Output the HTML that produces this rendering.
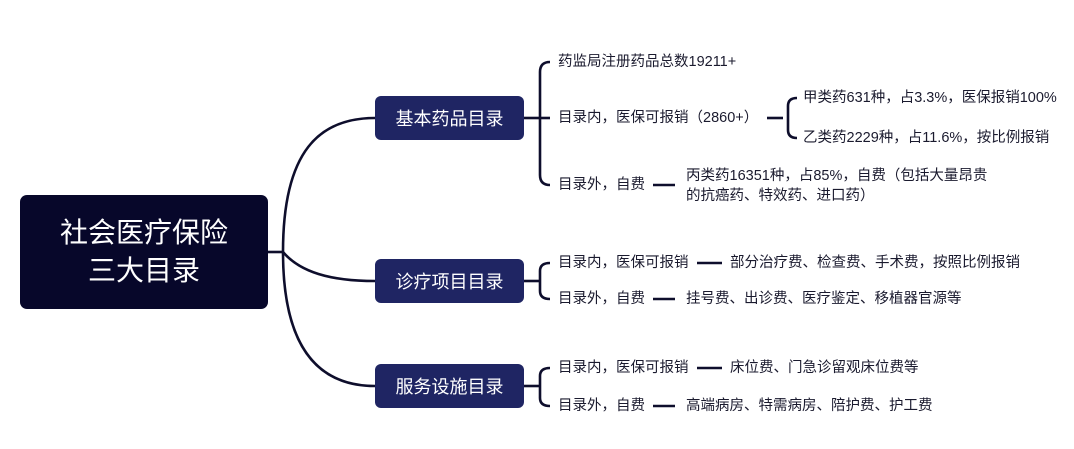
<!DOCTYPE html>
<html><head><meta charset="utf-8"><style>
body{margin:0;width:1074px;height:449px;background:#fff;position:relative;overflow:hidden;font-family:"Liberation Sans","Noto Sans CJK SC",sans-serif;}
.t{position:absolute;font-size:14.5px;color:#1a1a2e;white-space:nowrap;line-height:18px;}
.b{position:absolute;background:#1f2563;color:#fff;border-radius:6px;font-size:18px;display:flex;align-items:center;justify-content:center;}
</style></head><body>
<svg width="1074" height="449" style="position:absolute;left:0;top:0" fill="none" stroke="#0e0e2c" stroke-width="2.6">
<path d="M268 252 H283"/>
<path d="M283 252 C283 150 320 118 375 118"/>
<path d="M283 252 C300 272 330 281 375 281"/>
<path d="M283 252 C283 350 320 386 375 386"/>
<path d="M524 118 H540"/>
<path d="M550 62 Q540 62 540 72 V175 Q540 185 550 185"/>
<path d="M540 118 H550"/>
<path d="M767 118 H783"/>
<path d="M797 98 Q788 98 788 106 V130 Q788 138 797 138"/>
<path d="M653 185 H675"/>
<path d="M524 281 H540"/>
<path d="M550 263 Q540 263 540 271 V291 Q540 299 550 299"/>
<path d="M697 263 H722"/><path d="M653 299 H675"/>
<path d="M524 386 H540"/>
<path d="M550 368 Q540 368 540 376 V398 Q540 406 550 406"/>
<path d="M697 368 H722"/><path d="M653 406 H675"/>
</svg>
<div class="b" style="left:20px;top:195px;width:248px;height:114px;background:#07072a;font-size:28px;line-height:38px;text-align:center;border-radius:7px">社会医疗保险<br>三大目录</div>
<div class="b" style="left:375px;top:96px;width:149px;height:44px">基本药品目录</div>
<div class="b" style="left:375px;top:259px;width:149px;height:44px">诊疗项目目录</div>
<div class="b" style="left:375px;top:364px;width:149px;height:44px">服务设施目录</div>
<div class="t" style="left:558px;top:53px">药监局注册药品总数19211+</div>
<div class="t" style="left:558px;top:109px">目录内，医保可报销（2860+）</div>
<div class="t" style="left:803px;top:89px">甲类药631种，占3.3%，医保报销100%</div>
<div class="t" style="left:803px;top:129px">乙类药2229种，占11.6%，按比例报销</div>
<div class="t" style="left:558px;top:176px">目录外，自费</div>
<div class="t" style="left:686px;top:166px;line-height:20px">丙类药16351种，占85%，自费（包括大量昂贵<br>的抗癌药、特效药、进口药）</div>
<div class="t" style="left:558px;top:254px">目录内，医保可报销</div>
<div class="t" style="left:730px;top:254px">部分治疗费、检查费、手术费，按照比例报销</div>
<div class="t" style="left:558px;top:290px">目录外，自费</div>
<div class="t" style="left:686px;top:290px">挂号费、出诊费、医疗鉴定、移植器官源等</div>
<div class="t" style="left:558px;top:359px">目录内，医保可报销</div>
<div class="t" style="left:730px;top:359px">床位费、门急诊留观床位费等</div>
<div class="t" style="left:558px;top:397px">目录外，自费</div>
<div class="t" style="left:686px;top:397px">高端病房、特需病房、陪护费、护工费</div>
</body></html>
